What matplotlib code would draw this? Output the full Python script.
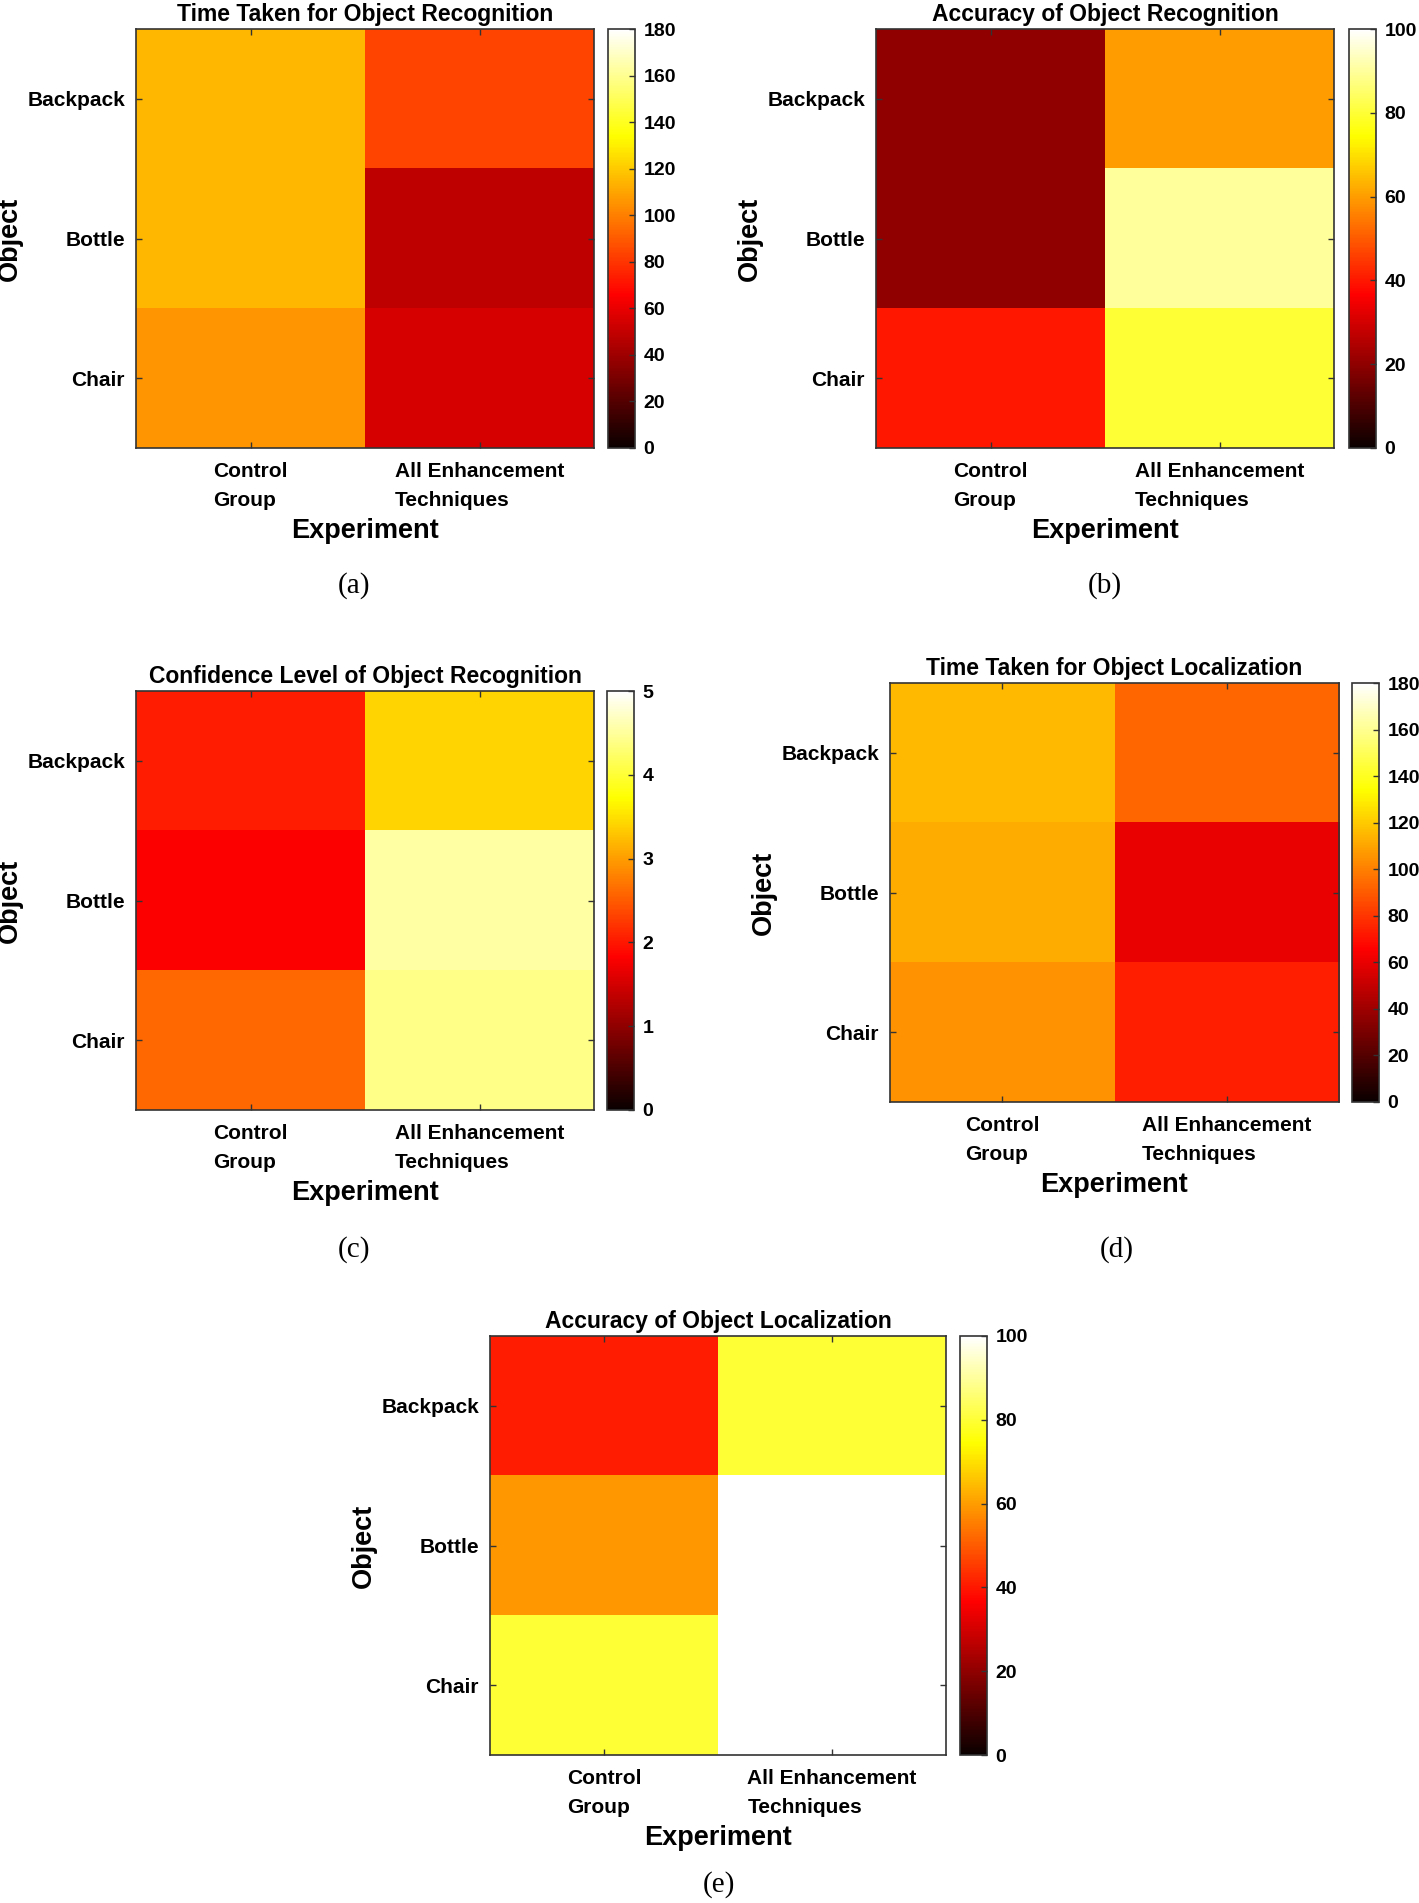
import numpy as np
import matplotlib
matplotlib.use('Agg')
import matplotlib.pyplot as plt

# --- DATA --------------------------------------------------------------------
objects = ["Backpack", "Bottle", "Chair"]
experiments = ["Control\nGroup", "All Enhancement\nTechniques"]

# rows = objects, cols = [control, all enhancement]
time_recognition = [[115, 84], [115, 49], [106, 55]]
accuracy_recognition = [[20, 60], [20, 90], [40, 80]]
confidence_recognition = [[2.05, 3.4], [1.8, 4.55], [2.6, 4.4]]
time_localization = [[116, 93], [112, 60], [105, 74]]
accuracy_localization = [[41, 80], [59, 100], [80, 100]]

titles = ["Time Taken for Object Recognition",
          "Accuracy of Object Recognition",
          "Confidence Level of Object Recognition",
          "Time Taken for Object Localization",
          "Accuracy of Object Localization"]
panel_tags = ["(a)", "(b)", "(c)", "(d)", "(e)"]
vmax_list = [180, 100, 5, 180, 100]
cbar_steps = [20, 20, 1, 20, 20]

# --- LAYOUT (pixels on a 1419 x 1903 canvas) ---------------------------------
W, H = 1419, 1903
# (left, top, width, height) of heatmap, colorbar left, tag centre
boxes = [
    (136, 29, 458, 419, 608, (354, 586)),
    (876, 29, 458, 419, 1349, (1105, 586)),
    (136, 691, 458, 419, 607, (354, 1250)),
    (890, 683, 449, 419, 1352, (1117, 1250)),
    (490, 1336, 456, 419, 960, (719, 1885)),
]
CBAR_W = 27

FONT = "Liberation Sans"
TICK_FS = 15
TITLE_FS = 16.5
LABEL_FS = 19.5
CB_FS = 14
EDGE = "#333333"


def frac(left, top, width, height):
    return [left / W, 1 - (top + height) / H, width / W, height / H]


def draw_panel(fig, data, title, vmax, step, box, tag):
    left, top, width, height, cb_left, tag_xy = box
    ax = fig.add_axes(frac(left, top, width, height))
    im = ax.imshow(np.array(data, dtype=float), cmap="hot", vmin=0, vmax=vmax,
                   aspect="auto", interpolation="nearest")

    ax.set_xticks(range(len(experiments)))
    ax.set_xticklabels(experiments, fontfamily=FONT, fontweight="bold",
                       fontsize=TICK_FS, linespacing=1.65,
                       multialignment="left")
    ax.set_yticks(range(len(objects)))
    ax.set_yticklabels(objects, fontfamily=FONT, fontweight="bold",
                       fontsize=TICK_FS)
    ax.tick_params(direction="in", length=4, width=1, color=EDGE,
                   top=True, right=True, pad=8)
    ax.tick_params(axis="x", pad=10)
    for sp in ax.spines.values():
        sp.set_color(EDGE)
        sp.set_linewidth(1.2)

    ax.set_title(title, fontfamily=FONT, fontweight="bold",
                 fontsize=TITLE_FS, pad=6)
    ax.set_xlabel("Experiment", fontfamily=FONT, fontweight="bold",
                  fontsize=LABEL_FS)
    ax.xaxis.set_label_coords(0.5, -83 / height)
    ax.xaxis.label.set_va("center")
    ax.set_ylabel("Object", fontfamily=FONT, fontweight="bold",
                  fontsize=LABEL_FS)
    ax.yaxis.set_label_coords(-126 / width, 0.5)
    ax.yaxis.label.set_va("center")

    cax = fig.add_axes(frac(cb_left, top, CBAR_W, height))
    cb = fig.colorbar(im, cax=cax, ticks=np.arange(0, vmax + step / 2, step))
    cb.ax.tick_params(direction="in", length=4, width=1, color=EDGE, pad=6)
    for lbl in cb.ax.get_yticklabels():
        lbl.set_fontfamily(FONT)
        lbl.set_fontweight("bold")
        lbl.set_fontsize(CB_FS)
    cb.outline.set_edgecolor(EDGE)
    cb.outline.set_linewidth(1.2)

    fig.text(tag_xy[0] / W, 1 - tag_xy[1] / H, tag, ha="center", va="center",
             fontfamily="Liberation Serif", fontsize=21)


def main():
    fig = plt.figure(figsize=(W / 100, H / 100), dpi=100)
    datasets = [time_recognition, accuracy_recognition, confidence_recognition,
                time_localization, accuracy_localization]
    for data, title, vmax, step, box, tag in zip(datasets, titles, vmax_list,
                                                 cbar_steps, boxes, panel_tags):
        draw_panel(fig, data, title, vmax, step, box, tag)
    fig.savefig("out.png", dpi=100)
    plt.close(fig)


if __name__ == "__main__":
    main()
